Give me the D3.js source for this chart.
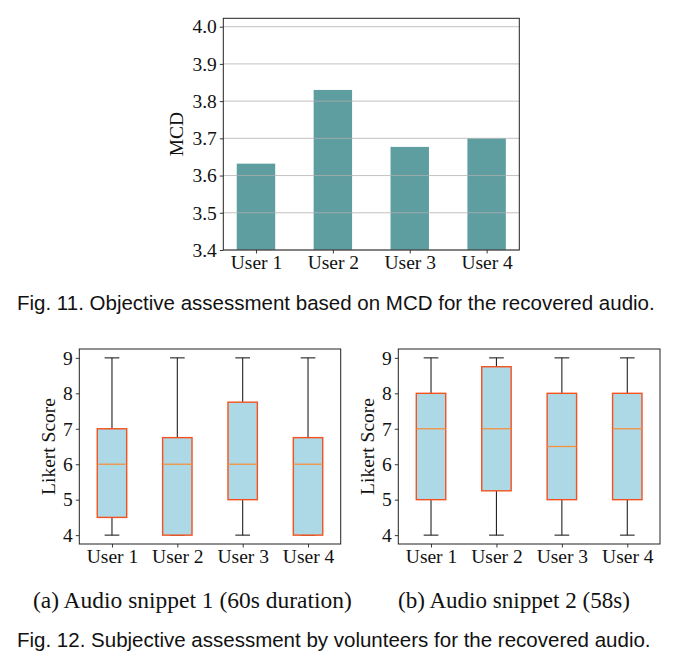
<!DOCTYPE html>
<html><head><meta charset="utf-8">
<script src="https://cdn.jsdelivr.net/npm/d3@7"></script>
<style>body{margin:0;background:#fff}svg{display:block}</style>
</head><body>
<svg id="c" width="677" height="664"></svg>
<script>
// ---- data ----
const users = ["User 1", "User 2", "User 3", "User 4"];
const mcdValues = [3.632, 3.830, 3.677, 3.700];
const mcdTicks = [3.4, 3.5, 3.6, 3.7, 3.8, 3.9, 4.0];
const likertTicks = [4, 5, 6, 7, 8, 9];
// box stats: [whisker low, q1, median, q3, whisker high]
const snippet1 = [[4, 4.5, 6, 7, 9], [4, 4, 6, 6.75, 9], [4, 5, 6, 7.75, 9], [4, 4, 6, 6.75, 9]];
const snippet2 = [[4, 5, 7, 8, 9], [4, 5.25, 7, 8.75, 9], [4, 5, 6.5, 8, 9], [4, 5, 7, 8, 9]];
const captions = {
  fig11: "Fig. 11. Objective assessment based on MCD for the recovered audio.",
  subA: "(a)  Audio snippet 1 (60s duration)",
  subB: "(b)  Audio snippet 2 (58s)",
  fig12: "Fig. 12. Subjective assessment by volunteers for the recovered audio."
};

const svg = d3.select("#c");
const serif = "'Liberation Serif','Times New Roman',serif";
const sans = "'Liberation Sans',Arial,sans-serif";
const fs = 19.5;

function styleAxis(g) {
  g.select(".domain").remove();
  g.selectAll(".tick line").attr("stroke", "#222").attr("stroke-width", 0.9);
  g.selectAll(".tick text").attr("font-family", serif).attr("font-size", fs).attr("fill", "#111");
}

// ---- Fig 11 bar chart ----
(function () {
  const L = 223.3, R = 519.3, T = 18.3, B = 250;
  const x = d3.scaleLinear().domain([-0.425, 3.425]).range([L, R]);
  const y = d3.scaleLinear().domain([3.4, 4.0225]).range([B, T]);
  const g = svg.append("g");
  const bw = x(0.25) - x(-0.25);
  g.selectAll("rect.bar").data(mcdValues).join("rect")
    .attr("x", (d, i) => x(i) - bw / 2).attr("width", bw)
    .attr("y", d => y(d)).attr("height", d => y(3.4) - y(d))
    .attr("fill", "#5f9ea0");
  g.selectAll("line.grid").data(mcdTicks).join("line")
    .attr("x1", L).attr("x2", R).attr("y1", d => y(d)).attr("y2", d => y(d))
    .attr("stroke", "#b0b0b0").attr("stroke-width", 0.9).attr("opacity", 0.85);
  const ya = g.append("g").attr("transform", `translate(${L},0)`)
    .call(d3.axisLeft(y).tickValues(mcdTicks).tickFormat(d3.format(".1f")).tickSize(3.5).tickPadding(3));
  styleAxis(ya);
  const xa = g.append("g").attr("transform", `translate(0,${B})`)
    .call(d3.axisBottom(x).tickValues([0, 1, 2, 3]).tickFormat(i => users[i]).tickSize(3.5).tickPadding(2));
  styleAxis(xa);
  g.append("rect").attr("x", L).attr("y", T).attr("width", R - L).attr("height", B - T)
    .attr("fill", "none").attr("stroke", "#222").attr("stroke-width", 1);
  g.append("text").attr("transform", `translate(183,${(T + B) / 2}) rotate(-90)`)
    .attr("text-anchor", "middle").attr("font-family", serif).attr("font-size", fs).attr("fill", "#111").text("MCD");
})();

// ---- Fig 12 box plots ----
function boxChart(data, L, R, labelX) {
  const T = 349, B = 544;
  const x = d3.scaleLinear().domain([0.5, 4.5]).range([L, R]);
  const y = d3.scaleLinear().domain([3.75, 9.25]).range([B, T]);
  const g = svg.append("g");
  const bw = x(1.225) - x(0.775);
  const cw = bw / 2;
  const items = g.selectAll("g.box").data(data).join("g");
  items.append("line").attr("x1", (d, i) => x(i + 1)).attr("x2", (d, i) => x(i + 1))
    .attr("y1", d => y(d[0])).attr("y2", d => y(d[1])).attr("stroke", "#222").attr("stroke-width", 1.1);
  items.append("line").attr("x1", (d, i) => x(i + 1)).attr("x2", (d, i) => x(i + 1))
    .attr("y1", d => y(d[3])).attr("y2", d => y(d[4])).attr("stroke", "#222").attr("stroke-width", 1.1);
  items.append("line").attr("x1", (d, i) => x(i + 1) - cw / 2).attr("x2", (d, i) => x(i + 1) + cw / 2)
    .attr("y1", d => y(d[0])).attr("y2", d => y(d[0])).attr("stroke", "#222").attr("stroke-width", 1.1);
  items.append("line").attr("x1", (d, i) => x(i + 1) - cw / 2).attr("x2", (d, i) => x(i + 1) + cw / 2)
    .attr("y1", d => y(d[4])).attr("y2", d => y(d[4])).attr("stroke", "#222").attr("stroke-width", 1.1);
  items.append("rect").attr("x", (d, i) => x(i + 1) - bw / 2).attr("width", bw)
    .attr("y", d => y(d[3])).attr("height", d => y(d[1]) - y(d[3]))
    .attr("fill", "#add8e6").attr("stroke", "#f4511e").attr("stroke-width", 1.4);
  items.append("line").attr("x1", (d, i) => x(i + 1) - bw / 2).attr("x2", (d, i) => x(i + 1) + bw / 2)
    .attr("y1", d => y(d[2])).attr("y2", d => y(d[2])).attr("stroke", "#f5923e").attr("stroke-width", 1.3);
  const ya = g.append("g").attr("transform", `translate(${L},0)`)
    .call(d3.axisLeft(y).tickValues(likertTicks).tickFormat(d3.format("d")).tickSize(3.5).tickPadding(3));
  styleAxis(ya);
  const xa = g.append("g").attr("transform", `translate(0,${B})`)
    .call(d3.axisBottom(x).tickValues([1, 2, 3, 4]).tickFormat(i => users[i - 1]).tickSize(3.5).tickPadding(2));
  styleAxis(xa);
  g.append("rect").attr("x", L).attr("y", T).attr("width", R - L).attr("height", B - T)
    .attr("fill", "none").attr("stroke", "#222").attr("stroke-width", 1);
  g.append("text").attr("transform", `translate(${labelX},${(T + B) / 2}) rotate(-90)`)
    .attr("text-anchor", "middle").attr("font-family", serif).attr("font-size", fs).attr("fill", "#111").text("Likert Score");
}
boxChart(snippet1, 79.3, 340.7, 55);
boxChart(snippet2, 398.3, 660, 374);

// ---- captions ----
function fitText(txt, x0, x1, yMid, family, base) {
  const t = svg.append("text").attr("x", x0).attr("y", yMid).attr("dominant-baseline", "central")
    .attr("font-family", family).attr("font-size", base).attr("fill", "#111").text(txt);
  const w = t.node().getComputedTextLength();
  const size = base * (x1 - x0) / w;
  t.attr("font-size", size);
  return size;
}
const capSize = fitText(captions.fig11, 17, 655, 302, sans, 18);
fitText(captions.subA, 33, 352, 600, serif, 19);
fitText(captions.subB, 398, 630, 600, serif, 19);
svg.append("text").attr("x", 17).attr("y", 639).attr("dominant-baseline", "central")
  .attr("font-family", sans).attr("font-size", capSize).attr("fill", "#111").text(captions.fig12);
</script>
</body></html>
